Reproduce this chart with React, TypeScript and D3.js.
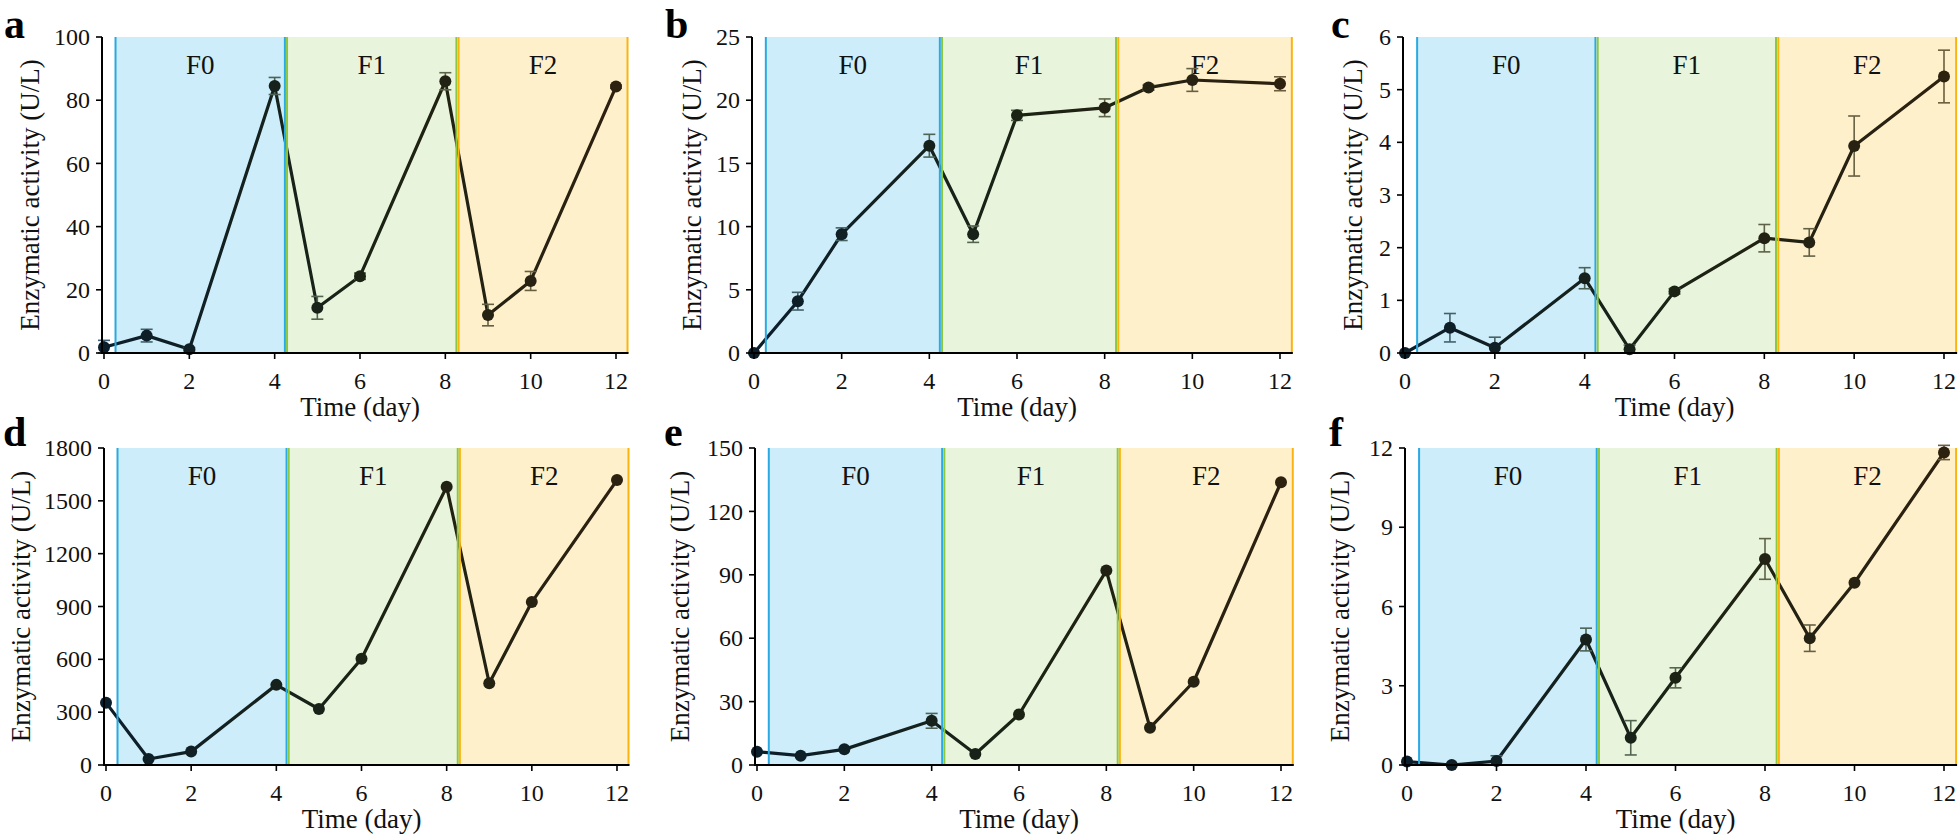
import * as d3 from "d3"

const W = 1958
const H = 838
const FONT = "Liberation Serif, Times New Roman, Times, serif"

// sampling days (x)
const days = [0, 1, 2, 4, 5, 6, 8, 9, 10, 12]
const xTicks = [0, 2, 4, 6, 8, 10, 12]

// panel values
const panelLetters = ["a", "b", "c", "d", "e", "f"]
const valuesA = [1.8, 5.5, 1.2, 84.5, 14.3, 24.3, 86, 12, 22.8, 84.3]
const errorsA = [2.2, 2, 0.5, 2.7, 3.6, 1, 2.7, 3.4, 3, 0.5]
const valuesB = [0, 4.1, 9.4, 16.4, 9.4, 18.8, 19.4, 21.0, 21.6, 21.3]
const errorsB = [0, 0.7, 0.5, 0.9, 0.65, 0.4, 0.7, 0.2, 0.9, 0.55]
const valuesC = [0, 0.48, 0.1, 1.42, 0.07, 1.17, 2.18, 2.1, 3.93, 5.25]
const errorsC = [0, 0.27, 0.2, 0.2, 0.08, 0.05, 0.26, 0.26, 0.57, 0.5]
const valuesD = [354, 34, 76, 455, 318, 603, 1580, 464, 925, 1618]
const errorsD = [0, 0, 0, 0, 0, 0, 0, 0, 0, 0]
const valuesE = [6.3, 4.4, 7.4, 20.9, 5.2, 23.9, 92, 17.6, 39.4, 133.8]
const errorsE = [0, 0, 0, 3.5, 0, 0, 0, 0, 0, 0]
const valuesF = [0.13, 0.0, 0.15, 4.75, 1.03, 3.3, 7.8, 4.8, 6.9, 11.83]
const errorsF = [0, 0, 0.2, 0.43, 0.65, 0.38, 0.77, 0.5, 0, 0.27]

const allValues = [valuesA, valuesB, valuesC, valuesD, valuesE, valuesF]
const allErrors = [errorsA, errorsB, errorsC, errorsD, errorsE, errorsF]
const yMax = [100, 25, 6, 1800, 150, 12]
const yStep = [20, 5, 1, 300, 30, 3]

// phases
const phaseLabels = ["F0", "F1", "F2"]
const phaseStart = [0.27, 4.29, 8.31]
const phaseEnd = [4.24, 8.26, 12.27]
const phaseFill = ["#ccedf9", "#e8f5dc", "#fff0cc"]
const phaseEdge = ["#29abe2", "#8dc63f", "#fbb40f"]

// where each panel sits
const layout = [
  { x0: 104, x12: 616, top: 37, bottom: 353, letterX: 4, letterY: 38, titleX: 30 },
  { x0: 754, x12: 1280, top: 37, bottom: 353, letterX: 665, letterY: 38, titleX: 692 },
  { x0: 1405, x12: 1944, top: 37, bottom: 353, letterX: 1331, letterY: 38, titleX: 1353 },
  { x0: 106, x12: 617, top: 448, bottom: 765, letterX: 3, letterY: 446, titleX: 21 },
  { x0: 757, x12: 1281, top: 448, bottom: 765, letterX: 664, letterY: 446, titleX: 680 },
  { x0: 1407, x12: 1944, top: 448, bottom: 765, letterX: 1329, letterY: 446, titleX: 1340 },
]

const lineColor = d3.scaleLinear<string>().domain([0, 6, 12]).range(["#0b1e2c", "#1b2314", "#2d2110"])
const barColor = d3.scaleLinear<string>().domain([0, 6, 12]).range(["#3f6070", "#56654c", "#6d5d3c"])

function Panel({ i }: { i: number }) {
  const L = layout[i]
  const vals = allValues[i]
  const errs = allErrors[i]
  const x = d3.scaleLinear().domain([0, 12]).range([L.x0, L.x12])
  const y = d3.scaleLinear().domain([0, yMax[i]]).range([L.bottom, L.top])
  const yTicks = d3.range(0, yMax[i] + yStep[i] / 2, yStep[i])
  const pts = days.map((d, k) => ({ d, v: vals[k], e: errs[k] }))
  const line = d3.line<{ d: number; v: number }>().x(p => x(p.d)).y(p => y(p.v))
  const gid = `grad-${i}`
  const xEnd = x(phaseEnd[2]) + 1
  const axisX = L.x0 - 2

  return (
    <g fontFamily={FONT}>
      <defs>
        <linearGradient id={gid} gradientUnits="userSpaceOnUse" x1={x(0)} x2={x(12)} y1={0} y2={0}>
          <stop offset="0%" stopColor={lineColor(0)} />
          <stop offset="50%" stopColor={lineColor(6)} />
          <stop offset="100%" stopColor={lineColor(12)} />
        </linearGradient>
      </defs>
      {phaseLabels.map((p, k) => (
        <rect key={p} x={x(phaseStart[k])} y={L.top} width={x(phaseEnd[k]) - x(phaseStart[k])}
          height={L.bottom - L.top} fill={phaseFill[k]} />
      ))}
      {phaseLabels.map((p, k) => (
        <text key={p} x={(x(phaseStart[k]) + x(phaseEnd[k])) / 2} y={L.top + 37} textAnchor="middle"
          fontSize={27} fill="#111">{p}</text>
      ))}
      <path d={line(pts) || ""} fill="none" stroke={`url(#${gid})`} strokeWidth={3.2} strokeLinejoin="round" />
      {pts.filter(p => p.e > 0).map(p => (
        <g key={"e" + p.d} stroke={barColor(p.d)} strokeWidth={1.6}>
          <line x1={x(p.d)} x2={x(p.d)} y1={y(p.v + p.e)} y2={y(Math.max(0, p.v - p.e))} />
          <line x1={x(p.d) - 6} x2={x(p.d) + 6} y1={y(p.v + p.e)} y2={y(p.v + p.e)} />
          <line x1={x(p.d) - 6} x2={x(p.d) + 6} y1={y(Math.max(0, p.v - p.e))} y2={y(Math.max(0, p.v - p.e))} />
        </g>
      ))}
      {pts.map(p => (
        <circle key={"c" + p.d} cx={x(p.d)} cy={y(p.v)} r={6} fill={lineColor(p.d)} />
      ))}
      {phaseLabels.map((p, k) => (
        <g key={"edge" + p} stroke={phaseEdge[k]} strokeWidth={2}>
          <line x1={x(phaseStart[k])} x2={x(phaseStart[k])} y1={L.top} y2={L.bottom} />
          <line x1={x(phaseEnd[k])} x2={x(phaseEnd[k])} y1={L.top} y2={L.bottom} />
        </g>
      ))}
      {/* axes */}
      <line x1={axisX} x2={axisX} y1={L.top} y2={L.bottom + 1} stroke="#000" strokeWidth={2} />
      <line x1={axisX - 1} x2={xEnd} y1={L.bottom} y2={L.bottom} stroke="#000" strokeWidth={2.2} />
      {yTicks.map(t => (
        <g key={"y" + t}>
          <line x1={axisX - 6} x2={axisX} y1={y(t)} y2={y(t)} stroke="#000" strokeWidth={1.6} />
          <text x={axisX - 12} y={y(t)} dy="0.34em" textAnchor="end" fontSize={24} fill="#111">{t}</text>
        </g>
      ))}
      {xTicks.map(t => (
        <g key={"x" + t}>
          <line x1={x(t)} x2={x(t)} y1={L.bottom} y2={L.bottom + 6} stroke="#000" strokeWidth={1.6} />
          <text x={x(t)} y={L.bottom + 36} textAnchor="middle" fontSize={24} fill="#111">{t}</text>
        </g>
      ))}
      <text x={(x(0) + x(12)) / 2} y={L.bottom + 63} textAnchor="middle" fontSize={27} fill="#111">
        Time (day)
      </text>
      <text transform={`translate(${L.titleX},${(L.top + L.bottom) / 2}) rotate(-90)`} dy="0.35em" textAnchor="middle"
        fontSize={27} fill="#111">
        Enzymatic activity (U/L)
      </text>
      <text x={L.letterX} y={L.letterY} fontSize={42} fontWeight={700} fill="#000">
        {panelLetters[i]}
      </text>
    </g>
  )
}

export default function App() {
  return (
    <div style={{ position: "absolute", left: 0, top: 0, background: "#fff" }}>
      <svg width={W} height={H} viewBox={`0 0 ${W} ${H}`}>
        <rect width={W} height={H} fill="#fff" />
        {panelLetters.map((_, i) => <Panel key={i} i={i} />)}
      </svg>
    </div>
  )
}
